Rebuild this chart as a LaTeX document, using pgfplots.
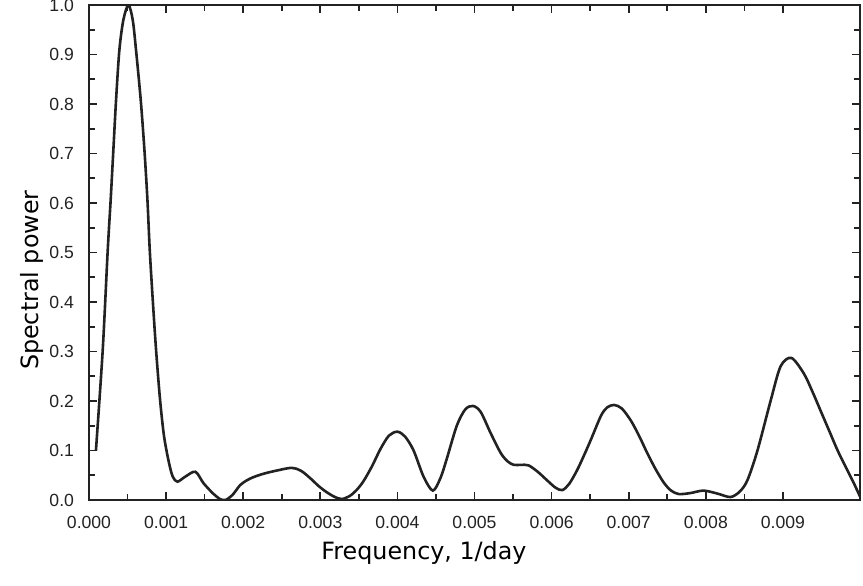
\documentclass[border=0pt]{standalone}
\usepackage{fontspec}
\setmainfont{Liberation Sans}
\newfontfamily\dejavu{DejaVu Sans}
\usepackage{pgfplots}
\pgfplotsset{compat=1.18}
\definecolor{ink}{HTML}{222222}

\pgfplotstableread{
f p
0.000090 0.100
0.000178 0.303
0.000243 0.505
0.000281 0.606
0.000316 0.707
0.000351 0.808
0.000394 0.909
0.000446 0.970
0.000511 1.000
0.000567 0.970
0.000610 0.909
0.000671 0.808
0.000719 0.707
0.000758 0.606
0.000788 0.505
0.000827 0.404
0.000870 0.303
0.000922 0.202
0.000974 0.128
0.001039 0.074
0.001087 0.047
0.001147 0.037
0.001247 0.047
0.001380 0.057
0.001485 0.034
0.001610 0.013
0.001700 0.002
0.001770 0.000
0.001860 0.010
0.001960 0.030
0.002050 0.040
0.002130 0.046
0.002220 0.051
0.002310 0.055
0.002450 0.060
0.002630 0.065
0.002750 0.059
0.002870 0.044
0.002980 0.028
0.003090 0.015
0.003190 0.006
0.003280 0.002
0.003380 0.008
0.003470 0.020
0.003560 0.038
0.003670 0.068
0.003780 0.103
0.003890 0.130
0.004000 0.138
0.004100 0.128
0.004210 0.100
0.004340 0.047
0.004460 0.019
0.004560 0.045
0.004640 0.083
0.004770 0.150
0.004880 0.183
0.004980 0.190
0.005080 0.178
0.005210 0.135
0.005340 0.095
0.005430 0.078
0.005510 0.071
0.005600 0.071
0.005700 0.070
0.005820 0.057
0.005940 0.040
0.006050 0.025
0.006140 0.020
0.006230 0.033
0.006330 0.060
0.006420 0.090
0.006510 0.122
0.006640 0.170
0.006720 0.187
0.006810 0.192
0.006910 0.185
0.007030 0.160
0.007140 0.128
0.007240 0.095
0.007350 0.062
0.007460 0.034
0.007550 0.019
0.007650 0.012
0.007800 0.014
0.007970 0.019
0.008150 0.013
0.008320 0.006
0.008440 0.017
0.008540 0.040
0.008670 0.100
0.008840 0.200
0.008970 0.270
0.009110 0.287
0.009270 0.256
0.009380 0.220
0.009490 0.180
0.009600 0.140
0.009710 0.100
0.009820 0.065
0.009920 0.034
0.010000 0.007
}\spectrum

\begin{document}
\begin{tikzpicture}
\begin{axis}[
 scale only axis,
 width=385.5pt, height=247.5pt,
 xmin=0, xmax=0.01, ymin=0, ymax=1,
 xtick={0,0.001,0.002,0.003,0.004,0.005,0.006,0.007,0.008,0.009},
 ytick={0,0.1,0.2,0.3,0.4,0.5,0.6,0.7,0.8,0.9,1.0},
 minor x tick num=1, minor y tick num=1,
 tick align=inside,
 major tick length=4pt, minor tick length=3pt,
 axis line style={ink, line width=1pt},
 every tick/.style={ink, line width=0.8pt},
 scaled x ticks=false, scaled y ticks=false,
 tick label style={font=\fontsize{8.8}{10}\selectfont, text=ink},
 xticklabel style={/pgf/number format/.cd, fixed, fixed zerofill, precision=3, assume math mode=true, /tikz/yshift=-4.5pt},
 yticklabel style={/pgf/number format/.cd, fixed, fixed zerofill, precision=1, assume math mode=true, /tikz/xshift=-4pt},
 xlabel={Frequency, 1/day},
 ylabel={Spectral power},
 label style={font=\dejavu\fontsize{11.9}{13}\selectfont},
 xlabel style={at={(axis description cs:0.4345,-0.107)}, anchor=center},
 ylabel style={at={(axis description cs:-0.0739,0.444)}, anchor=center, rotate=0},
]
\addplot[ink, line width=1.3pt, smooth] table[x=f, y=p] {\spectrum};
\path (rel axis cs:0,1) ++(-44.5pt,2.5pt) coordinate (tl);
\path (rel axis cs:1,0) ++(1.5pt,-42.5pt) coordinate (br);
\end{axis}
\pgfresetboundingbox
\path (tl) rectangle (br);
\end{tikzpicture}
\end{document}
